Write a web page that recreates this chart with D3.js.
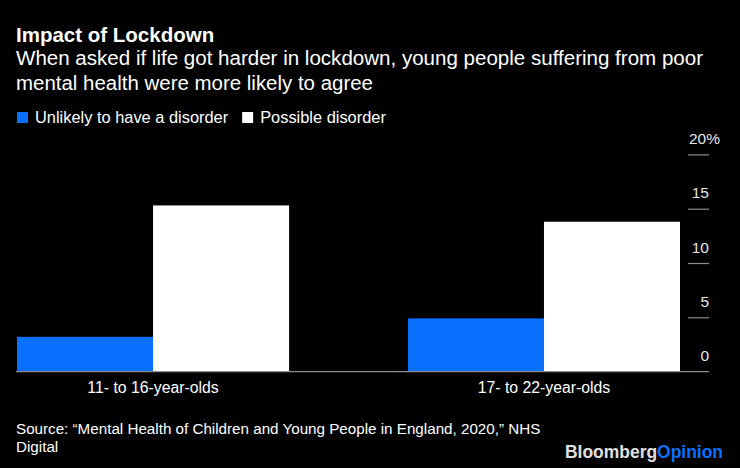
<!DOCTYPE html>
<html>
<head>
<meta charset="utf-8">
<script src="https://cdn.jsdelivr.net/npm/d3@7"></script>
<style>
  html, body { margin: 0; padding: 0; background: #000; }
  svg { display: block; }
  text { font-family: "Liberation Sans", Arial, Helvetica, sans-serif; }
</style>
</head>
<body>
<svg id="chart" width="740" height="468"></svg>
<script>
const categories = ["11- to 16-year-olds", "17- to 22-year-olds"];
const seriesNames = ["Unlikely to have a disorder", "Possible disorder"];
const unlikelyValues = [3.2, 4.9];
const possibleValues = [15.3, 13.8];
const yTicks = [0, 5, 10, 15, 20];
const yTickLabels = ["0", "5", "10", "15", "20%"];
const colors = ["#0a70ff", "#ffffff"];

const svg = d3.select("#chart");
svg.append("rect").attr("width", 740).attr("height", 468).attr("fill", "#000");

// Titles
svg.append("text").attr("x", 16).attr("y", 42)
  .attr("fill", "#fff").attr("font-weight", "bold").attr("font-size", 20.5)
  .text("Impact of Lockdown");
svg.append("text").attr("x", 16).attr("y", 65)
  .attr("fill", "#fff").attr("font-size", 19.5)
  .attr("textLength", 687).attr("lengthAdjust", "spacingAndGlyphs")
  .text("When asked if life got harder in lockdown, young people suffering from poor");
svg.append("text").attr("x", 16).attr("y", 90)
  .attr("fill", "#fff").attr("font-size", 19.5)
  .attr("textLength", 357).attr("lengthAdjust", "spacingAndGlyphs")
  .text("mental health were more likely to agree");

// Legend
const legend = svg.append("g");
let lx = 17;
seriesNames.forEach((name, i) => {
  legend.append("rect").attr("x", lx).attr("y", 112).attr("width", 11).attr("height", 11).attr("fill", colors[i]);
  const t = legend.append("text").attr("x", lx + 18).attr("y", 123)
    .attr("fill", "#fff").attr("font-size", 16.4).text(name);
  lx += 18 + t.node().getComputedTextLength() + 14;
});

// Scales
const x0 = d3.scaleBand().domain(categories).range([17, 680]).paddingInner(0.304).paddingOuter(0);
const x1 = d3.scaleBand().domain([0, 1]).range([0, x0.bandwidth()]).padding(0);
const y = d3.scaleLinear().domain([0, 20]).range([371.6, 154.4]);

const data = categories.map((c, i) => ({ cat: c, vals: [unlikelyValues[i], possibleValues[i]] }));

const groups = svg.append("g").selectAll("g").data(data).join("g")
  .attr("transform", d => `translate(${x0(d.cat)},0)`);
groups.selectAll("rect").data(d => d.vals.map((v, j) => ({ v, j }))).join("rect")
  .attr("x", d => x1(d.j))
  .attr("width", x1.bandwidth())
  .attr("y", d => y(d.v))
  .attr("height", d => y(0) - y(d.v))
  .attr("fill", d => colors[d.j]);

// Baseline
svg.append("line").attr("x1", 16).attr("x2", 709)
  .attr("y1", y(0)).attr("y2", y(0)).attr("stroke", "#8a8a8a").attr("stroke-width", 1.2);

// Y axis (right)
const yAxis = d3.axisRight(y).tickValues(yTicks).tickSize(0)
  .tickFormat((d, i) => yTickLabels[i]);
const ya = svg.append("g").attr("transform", "translate(709,0)").call(yAxis);
ya.select(".domain").remove();
ya.selectAll(".tick line").remove();
ya.selectAll(".tick").each(function(d) {
  const g = d3.select(this);
  if (d !== 0) {
    g.append("line").attr("x1", -21).attr("x2", 0).attr("y1", 0).attr("y2", 0)
      .attr("stroke", "#8a8a8a").attr("stroke-width", 1.2);
  }
});
ya.selectAll(".tick text")
  .attr("x", d => d === 20 ? -20 : 0)
  .attr("y", -11)
  .attr("dy", 0)
  .attr("text-anchor", d => d === 20 ? "start" : "end")
  .attr("fill", "#e6e6e6")
  .attr("font-size", 15.5)
  .attr("font-family", "Liberation Sans, Arial, sans-serif");

// X axis labels
const xa = svg.append("g").attr("transform", `translate(0,${y(0)})`)
  .call(d3.axisBottom(x0).tickSize(0).tickPadding(0));
xa.select(".domain").remove();
xa.selectAll(".tick text").attr("dy", 0).attr("y", 21.5)
  .attr("fill", "#fff").attr("font-size", 15.8)
  .attr("font-family", "Liberation Sans, Arial, sans-serif");

// Source
svg.append("text").attr("x", 16).attr("y", 433.5).attr("fill", "#fff").attr("font-size", 15.2)
  .text("Source: \u201cMental Health of Children and Young People in England, 2020,\u201d NHS");
svg.append("text").attr("x", 16).attr("y", 451.5).attr("fill", "#fff").attr("font-size", 15.2)
  .text("Digital");

// Logo
const logo = svg.append("text").attr("x", 565).attr("y", 458).attr("font-weight", "bold")
  .attr("font-size", 18).attr("textLength", 158).attr("lengthAdjust", "spacingAndGlyphs");
logo.append("tspan").attr("fill", "#e0e0e0").text("Bloomberg");
logo.append("tspan").attr("fill", "#0a70ff").text("Opinion");
</script>
</body>
</html>
